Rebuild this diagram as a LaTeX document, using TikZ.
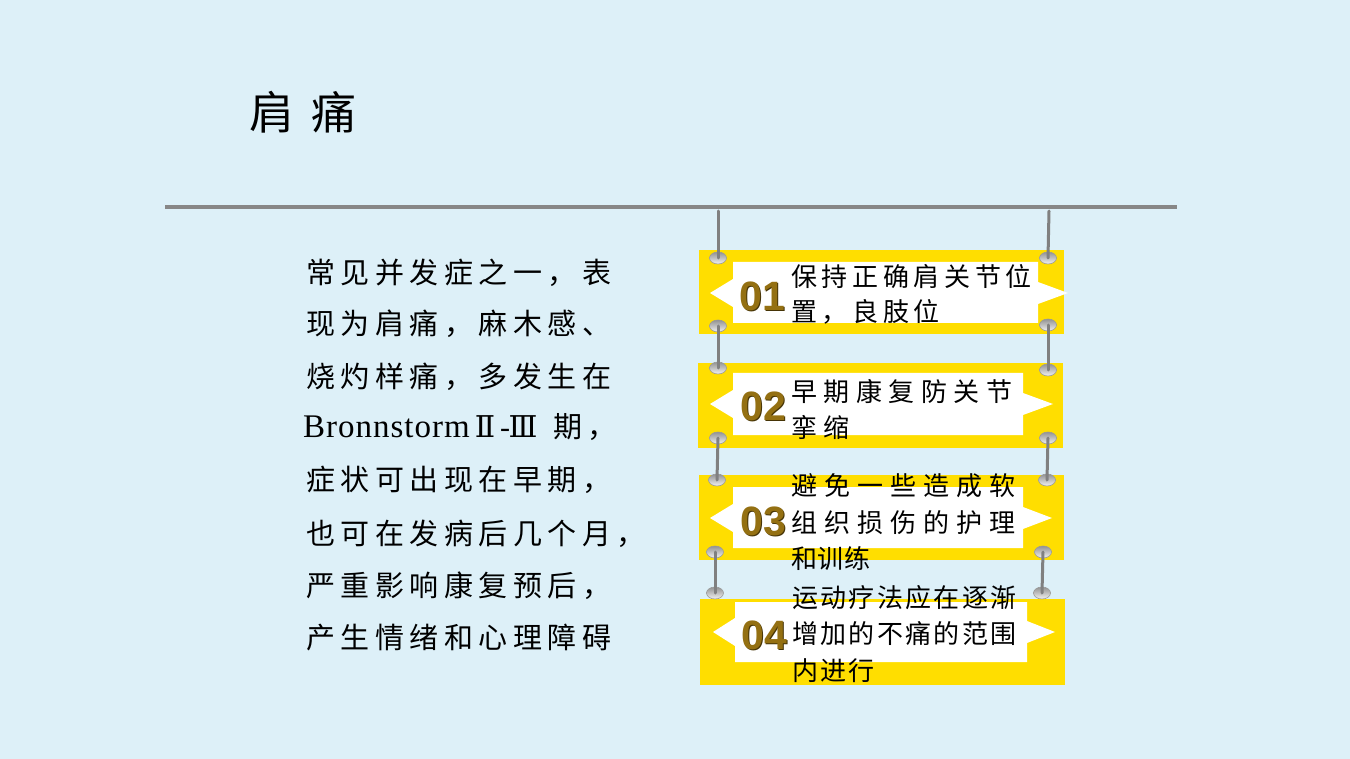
\documentclass[tikz,border=0pt]{standalone}
\usepackage{fontspec}
\setmainfont{Liberation Serif}
\newfontfamily\cjk{Noto Sans CJK SC}
\newfontfamily\numf{Liberation Sans}
\newfontfamily\dvs{DejaVu Serif}
\usetikzlibrary{shapes.geometric}
\definecolor{bg}{RGB}{221,240,248}
\definecolor{yel}{RGB}{255,222,0}
\definecolor{rulegray}{RGB}{135,135,135}
\definecolor{wiregray}{RGB}{128,128,128}
\definecolor{numgold}{RGB}{148,112,18}
\definecolor{numshade}{RGB}{70,52,6}
\tikzset{
  panel/.style={fill=yel, draw=none},
  ribbon/.style={fill=white, draw=none},
  wire/.style={draw=wiregray, line width=3pt, line cap=round},
  ring/.style={ellipse, minimum width=17pt, minimum height=12pt, inner sep=0pt,
    draw=gray!80, line width=0.6pt, top color=gray!85, bottom color=gray!10},
  num/.style={font=\numf\bfseries\fontsize{41}{41}\selectfont, text=numgold, inner sep=0pt},
  numsh/.style={font=\numf\bfseries\fontsize{41}{41}\selectfont, text=numshade, inner sep=0pt},
  ptext/.style={anchor=base west, inner sep=0pt},
  ltext/.style={font=\cjk\fontsize{29}{29}\selectfont\addfontfeatures{LetterSpace=19}, anchor=base west, inner sep=0pt},
}
\begin{document}
\begin{tikzpicture}[x=1pt,y=-1pt]
\path[use as bounding box, fill=bg] (0,0) rectangle (1350,759);

% title
\node[font=\cjk\fontsize{45}{45}\selectfont, anchor=base west, inner sep=0pt] (title) at (249,130) {肩\hspace{17pt}痛};

% rule
\draw[draw=rulegray, line width=4pt] (165,207) coordinate (ruleL) -- (1177,207) coordinate (ruleR);

% panels
\fill[panel] (699,250) rectangle (1064,334);
\fill[panel] (698,363) rectangle (1063,448);
\fill[panel] (699,475) rectangle (1064,560);
\fill[panel] (700,599) rectangle (1065,685);

% ribbons
\fill[ribbon] (733,262) -- (1038,262) -- (1038,282) -- (1068,293) -- (1038,304) -- (1038,323) -- (733,323) -- (733,307) -- (710,293) -- (733,279) -- cycle;
\fill[ribbon] (733,373) -- (1023,373) -- (1023,393) -- (1053,404) -- (1023,415) -- (1023,435) -- (733,435) -- (733,418) -- (710,404) -- (733,390) -- cycle;
\fill[ribbon] (733,487) -- (1023,487) -- (1023,507) -- (1052,518) -- (1023,529) -- (1023,548) -- (733,548) -- (733,532) -- (710,518) -- (733,504) -- cycle;
\fill[ribbon] (735,602) -- (1027,602) -- (1027,621) -- (1055,632) -- (1027,643) -- (1027,662) -- (735,662) -- (735,646) -- (713,632) -- (735,618) -- cycle;

% rings
\node[ring] (r1lt) at (718,258) {};
\node[ring] (r1lb) at (718,326) {};
\node[ring] (r1rt) at (1048,258) {};
\node[ring] (r1rb) at (1048,325) {};
\node[ring] (r2lt) at (718,368) {};
\node[ring] (r2lb) at (718,438) {};
\node[ring] (r2rt) at (1048,370) {};
\node[ring] (r2rb) at (1048,438) {};
\node[ring] (r3lt) at (717,480) {};
\node[ring] (r3lb) at (715,552) {};
\node[ring] (r3rt) at (1047,480) {};
\node[ring] (r3rb) at (1043,552) {};
\node[ring] (r4lt) at (715,593) {};
\node[ring] (r4rt) at (1042,593) {};

% wires
\coordinate (tl) at (718,211);
\coordinate (tr) at (1049,211);
\draw[wire] (tl) -- (r1lt.center);
\draw[wire] (tr) -- (r1rt.center);
\draw[wire] (r1lb.center) -- (r2lt.center);
\draw[wire] (r1rb.center) -- (r2rt.center);
\draw[wire] (r2lb.center) -- (r3lt.center);
\draw[wire] (r2rb.center) -- (r3rt.center);
\draw[wire] (r3lb.center) -- (r4lt.center);
\draw[wire] (r3rb.center) -- (r4rt.center);

% numbers
\node[numsh] (n1s) at (763.5,297.5) {01};
\node[num] (n1) at (762,296) {01};
\node[numsh] (n2s) at (764.5,407.5) {02};
\node[num] (n2) at (763,406) {02};
\node[numsh] (n3s) at (764.5,522.5) {03};
\node[num] (n3) at (763,521) {03};
\node[numsh] (n4s) at (765.5,636.5) {04};
\node[num] (n4) at (764,635) {04};

% panel texts
\node[ptext, font=\cjk\fontsize{26}{26}\selectfont\addfontfeatures{LetterSpace=18}] (p1a) at (791,287) {保持正确肩关节位};
\node[ptext, font=\cjk\fontsize{26}{26}\selectfont\addfontfeatures{LetterSpace=18}] (p1b) at (791,322) {置，良肢位};
\node[ptext, font=\cjk\fontsize{26}{26}\selectfont\addfontfeatures{LetterSpace=25}] (p2a) at (791,402) {早期康复防关节};
\node[ptext, font=\cjk\fontsize{26}{26}\selectfont\addfontfeatures{LetterSpace=25}] (p2b) at (791,437) {挛缩};
\node[ptext, font=\cjk\fontsize{26}{26}\selectfont\addfontfeatures{LetterSpace=27}] (p3a) at (791,495) {避免一些造成软};
\node[ptext, font=\cjk\fontsize{26}{26}\selectfont\addfontfeatures{LetterSpace=27}] (p3b) at (791,532) {组织损伤的护理};
\node[ptext, font=\cjk\fontsize{26}{26}\selectfont\addfontfeatures{LetterSpace=2}] (p3c) at (791,568) {和训练};
\node[ptext, font=\cjk\fontsize{26}{26}\selectfont\addfontfeatures{LetterSpace=9}] (p4a) at (792,607) {运动疗法应在逐渐};
\node[ptext, font=\cjk\fontsize{26}{26}\selectfont\addfontfeatures{LetterSpace=9}] (p4b) at (792,643) {增加的不痛的范围};
\node[ptext, font=\cjk\fontsize{26}{26}\selectfont\addfontfeatures{LetterSpace=9}] (p4c) at (792,680) {内进行};

% left text
\node[ltext] (l1) at (306,284) {常见并发症之一，表};
\node[ltext] (l2) at (306,335) {现为肩痛，麻木感、};
\node[ltext] (l3) at (306,388) {烧灼样痛，多发生在};
\node[font=\fontsize{33}{33}\selectfont\addfontfeatures{LetterSpace=3}, anchor=base west, inner sep=0pt] (l4a) at (303,437) {Bronnstorm};
\node[font=\dvs\fontsize{30}{30}\selectfont, anchor=base, inner sep=0pt] (l4b) at (485,437) {Ⅱ};
\node[font=\fontsize{30}{30}\selectfont, anchor=base, inner sep=0pt] (l4c) at (505,437) {-};
\node[font=\dvs\fontsize{30}{30}\selectfont, anchor=base, inner sep=0pt] (l4d) at (523,437) {Ⅲ};
\node[ltext] (l4e) at (553,437) {期，};
\node[ltext] (l5) at (306,490) {症状可出现在早期，};
\node[ltext] (l6) at (306,544) {也可在发病后几个月，};
\node[ltext] (l7) at (306,596) {严重影响康复预后，};
\node[ltext] (l8) at (306,648) {产生情绪和心理障碍};
\end{tikzpicture}
\end{document}
